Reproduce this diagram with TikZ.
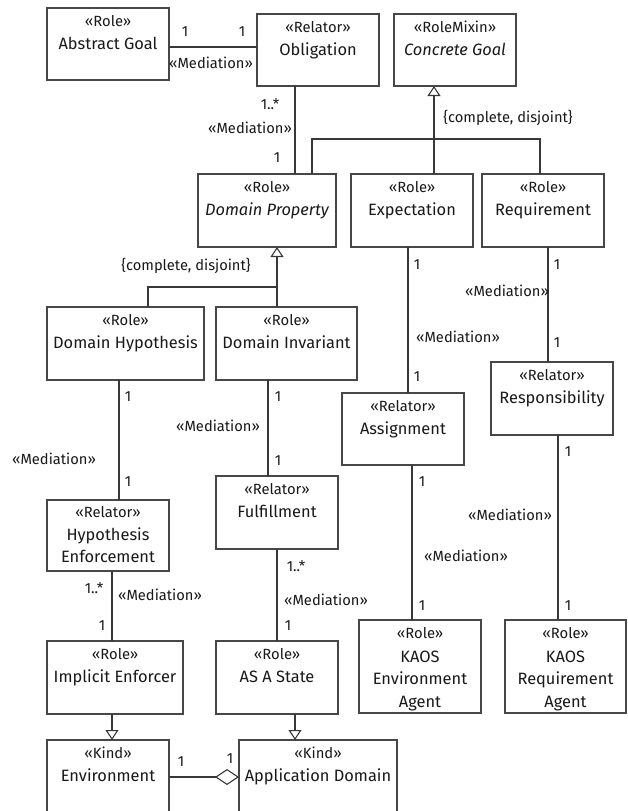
\documentclass[tikz,border=0pt]{standalone}
\usepackage{fontspec}
\setmainfont{Fira Sans}
\usetikzlibrary{arrows.meta}
\newcommand\ubox[7]{%
  \node[box, minimum width=#4pt, minimum height=#5pt] (#1) at (#2,#3) {};
  \node[st] (#1-s) at ([yshift=-18.5pt]#1.north) {#6};
  \node[nm] (#1-n) at ([yshift=-41pt]#1.north) {#7};
}
\newcommand\uline[4]{%
  \node[nm] (#1) at ([yshift=-#3pt]#2.north) {#4};
}
\begin{document}
\begin{tikzpicture}[x=1pt,y=-1pt,
 box/.style={draw=black!72, line width=1.2pt, fill=white, inner sep=0pt, outer sep=0pt, anchor=north west},
 st/.style={anchor=base, inner sep=0pt, font=\fontsize{14.8}{17}\selectfont, text=black!90},
 nm/.style={anchor=base, inner sep=0pt, font=\fontsize{16.4}{19}\selectfont, text=black!90},
 lbl/.style={inner sep=0pt, font=\fontsize{14.7}{17}\selectfont, text=black!90},
 conn/.style={draw=black!78, line width=1.1pt},
 gen/.style={conn, -{Triangle[open, length=10pt, width=13pt, line width=1.1pt]}},
 agg/.style={conn, -{Diamond[open, length=24pt, width=16pt, line width=1.1pt]}},
]
\useasboundingbox (0,0) rectangle (628,811);
\fill[white] (0,0) rectangle (628,811);

% boxes
\ubox{ag}{47}{8}{122}{72}{«Role»}{Abstract Goal}
\ubox{obl}{257}{14}{122}{72}{«Relator»}{Obligation}
\ubox{cg}{394}{14}{122}{72}{«RoleMixin»}{\itshape Concrete Goal}
\ubox{dp}{198}{174}{138}{73}{«Role»}{\itshape Domain Property}
\ubox{exp}{351}{174}{122}{73}{«Role»}{Expectation}
\ubox{req}{482}{174}{122}{73}{«Role»}{Requirement}
\ubox{dh}{47}{307}{157}{73}{«Role»}{Domain Hypothesis}
\ubox{di}{216}{307}{141}{73}{«Role»}{Domain Invariant}
\ubox{asg}{342}{393}{122}{72}{«Relator»}{Assignment}
\ubox{resp}{491}{362}{122}{73}{«Relator»}{Responsibility}
\ubox{ful}{216}{476}{122}{73}{«Relator»}{Fulfillment}
\node[box, minimum width=122pt, minimum height=71pt] (he) at (47,500) {};
\node[st] (he-s) at ([yshift=-17.5pt]he.north) {«Relator»};
\uline{he-n1}{he}{40}{Hypothesis}
\uline{he-n2}{he}{62.5}{Enforcement}
\ubox{ie}{47}{641}{136}{73}{«Role»}{Implicit Enforcer}
\ubox{as}{216}{641}{122}{73}{«Role»}{AS A State}
\node[box, minimum width=122pt, minimum height=93pt] (kea) at (359,620) {};
\node[st] (kea-s) at ([yshift=-18pt]kea.north) {«Role»};
\uline{kea-n1}{kea}{42}{KAOS}
\uline{kea-n2}{kea}{64.5}{Environment}
\uline{kea-n3}{kea}{87}{Agent}
\node[box, minimum width=121pt, minimum height=93pt] (kra) at (505,620) {};
\node[st] (kra-s) at ([yshift=-18pt]kra.north) {«Role»};
\uline{kra-n1}{kra}{42}{KAOS}
\uline{kra-n2}{kra}{64.5}{Requirement}
\uline{kra-n3}{kra}{87}{Agent}
\ubox{env}{47}{740}{122}{90}{«Kind»}{Environment}
\ubox{ad}{239}{740}{158}{90}{«Kind»}{Application Domain}

% Abstract Goal -- Obligation
\draw[conn] (ag.east |- 0,47) -- (obl.west |- 0,47);
\node[lbl] (l1) at (185,32) {1};
\node[lbl] (l2) at (242,32) {1};
\node[lbl] (l3) at (211,63) {«Mediation»};

% Obligation -- Domain Property
\draw[conn] (obl.south -| 295,0) -- (dp.north -| 295,0);
\node[lbl] (l4) at (270,104) {1..*};
\node[lbl] (l5) at (250,128) {«Mediation»};
\node[lbl] (l6) at (277,158) {1};

% generalization to Concrete Goal
\coordinate (j1) at (434,139);
\draw[conn] (dp.north -| 312,0) |- (j1) -| (req.north -| 540,0);
\draw[conn] (exp.north -| 434,0) -- (j1);
\draw[gen] (j1) -- (cg.south -| 434,0);
\draw[draw=black!78, line width=2.2pt] (j1) -- (434,97);
\node[lbl] (l7) at (508,118) {\{complete, disjoint\}};

% generalization to Domain Property
\coordinate (j2) at (277,287);
\draw[conn] (dh.north -| 148,0) |- (j2) -- (di.north -| 277,0);
\draw[gen] (j2) -- (dp.south -| 277,0);
\node[lbl] (l8) at (186,266) {\{complete, disjoint\}};

% Domain Hypothesis -- Hypothesis Enforcement
\draw[conn] (dh.south -| 119,0) -- (he.north -| 119,0);
\node[lbl] (l9) at (128,397) {1};
\node[lbl] (l10) at (54,459) {«Mediation»};
\node[lbl] (l11) at (128,482) {1};

% Domain Invariant -- Fulfillment
\draw[conn] (di.south -| 268,0) -- (ful.north -| 268,0);
\node[lbl] (l12) at (278,397) {1};
\node[lbl] (l13) at (218,426) {«Mediation»};
\node[lbl] (l14) at (278,461) {1};

% Expectation -- Assignment
\draw[conn] (exp.south -| 408,0) -- (asg.north -| 408,0);
\node[lbl] (l15) at (417,265) {1};
\node[lbl] (l16) at (458,337) {«Mediation»};
\node[lbl] (l17) at (417,377) {1};

% Requirement -- Responsibility
\draw[conn] (req.south -| 548,0) -- (resp.north -| 548,0);
\node[lbl] (l18) at (557,265) {1};
\node[lbl] (l19) at (507,291) {«Mediation»};
\node[lbl] (l20) at (557,343) {1};

% Assignment -- KAOS Environment Agent
\draw[conn] (asg.south -| 412,0) -- (kea.north -| 412,0);
\node[lbl] (l21) at (422,482) {1};
\node[lbl] (l22) at (466,556) {«Mediation»};
\node[lbl] (l23) at (422,606) {1};

% Responsibility -- KAOS Requirement Agent
\draw[conn] (resp.south -| 558,0) -- (kra.north -| 558,0);
\node[lbl] (l24) at (568,452) {1};
\node[lbl] (l25) at (510,515) {«Mediation»};
\node[lbl] (l26) at (568,606) {1};

% Hypothesis Enforcement -- Implicit Enforcer
\draw[conn] (he.south -| 112,0) -- (ie.north -| 112,0);
\node[lbl] (l27) at (94,588) {1..*};
\node[lbl] (l28) at (160,595) {«Mediation»};
\node[lbl] (l29) at (102,626) {1};

% Fulfillment -- AS A State
\draw[conn] (ful.south -| 277,0) -- (as.north -| 277,0);
\node[lbl] (l30) at (296,566) {1..*};
\node[lbl] (l31) at (326,600) {«Mediation»};
\node[lbl] (l32) at (288,626) {1};

% generalizations to Kinds
\draw[gen] (ie.south -| 112,0) -- (env.north -| 112,0);
\draw[gen] (as.south -| 295,0) -- (ad.north -| 295,0);

% Environment -- Application Domain (aggregation)
\draw[agg] (env.east |- 0,777) -- (ad.west |- 0,777);
\node[lbl] (l33) at (181,762) {1};
\node[lbl] (l34) at (230,759) {1};
\end{tikzpicture}
\end{document}
